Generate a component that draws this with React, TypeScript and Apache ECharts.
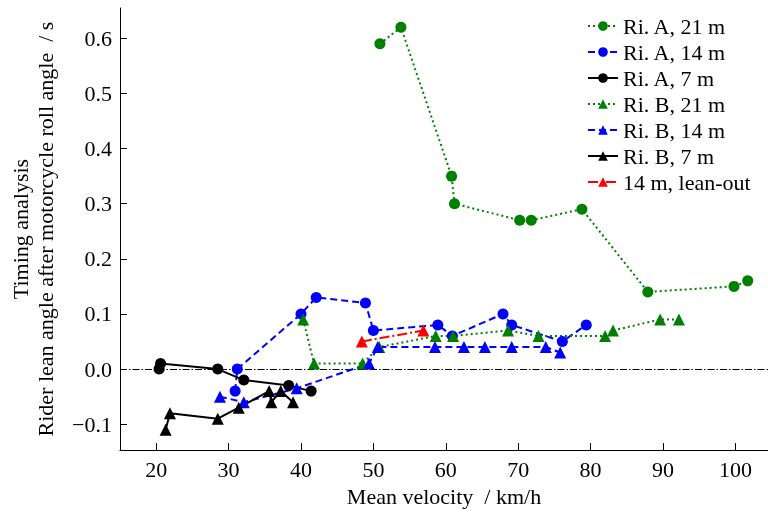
import React, { useEffect, useRef } from 'react';
import * as echarts from 'echarts';

const xTicks = [20, 30, 40, 50, 60, 70, 80, 90, 100];
const yTicks = [-0.1, 0.0, 0.1, 0.2, 0.3, 0.4, 0.5, 0.6];

const riA21 = [[50.9, 0.59], [53.8, 0.62], [60.8, 0.35], [61.2, 0.30], [70.2, 0.27], [71.8, 0.27], [78.8, 0.29], [87.9, 0.14], [99.8, 0.15], [101.7, 0.16]];
const riA14 = [[30.9, -0.04], [31.2, 0.0], [40.0, 0.10], [42.1, 0.13], [48.9, 0.12], [50.0, 0.07], [58.9, 0.08], [60.9, 0.06], [67.9, 0.10], [69.1, 0.08], [76.1, 0.05], [79.4, 0.08]];
const riA7 = [[20.4, 0.0], [20.6, 0.01], [28.5, 0.0], [32.1, -0.02], [38.3, -0.03], [41.4, -0.04]];
const riB21 = [[40.3, 0.09], [41.8, 0.01], [48.5, 0.01], [50.8, 0.04], [58.6, 0.06], [61.0, 0.06], [68.6, 0.07], [72.8, 0.06], [82.0, 0.06], [83.1, 0.07], [89.6, 0.09], [92.2, 0.09]];
const riB14 = [[28.8, -0.05], [32.1, -0.06], [39.4, -0.035], [49.4, 0.01], [50.6, 0.04], [58.5, 0.04], [62.5, 0.04], [65.4, 0.04], [69.1, 0.04], [73.8, 0.04], [75.8, 0.03]];
const riB7 = [[21.3, -0.11], [21.9, -0.08], [28.5, -0.09], [31.4, -0.07], [35.6, -0.04], [35.9, -0.06], [37.2, -0.04], [38.9, -0.06]];
const leanOut = [[48.4, 0.05], [56.9, 0.07]];

const FONT = 'Liberation Serif';
const DOT = [2, 3];
const DASH = [7, 4];
const DASHDOT = [10, 3, 2, 3];

function mk(name: string, data: number[][], color: string, symbol: string, type: any) {
  return {
    name,
    type: 'line',
    data,
    symbol,
    symbolSize: symbol === 'circle' ? 11 : 12,
    showSymbol: true,
    itemStyle: { color },
    lineStyle: { color, width: 2, type },
    emphasis: { disabled: true },
  };
}

export default function App() {
  const ref = useRef<HTMLDivElement>(null);
  useEffect(() => {
    const chart = echarts.init(ref.current!, null, { renderer: 'svg' });
    const s0: any = mk('Ri. A, 21 m', riA21, '#008000', 'circle', DOT);
    s0.markLine = {
      silent: true,
      symbol: 'none',
      label: { show: false },
      lineStyle: { color: '#000', width: 1, type: [7, 2, 1.5, 2] },
      data: [{ yAxis: 0 }],
      z: 1,
    };
    chart.setOption({
      animation: false,
      textStyle: { fontFamily: FONT },
      grid: { left: 120, top: 8, right: 0, bottom: 61 },
      legend: {
        orient: 'vertical',
        left: 582,
        top: 10,
        itemWidth: 30,
        itemHeight: 12,
        itemGap: 4,
        textStyle: { fontFamily: FONT, fontSize: 22, color: '#000', lineHeight: 22 },
        data: ['Ri. A, 21 m', 'Ri. A, 14 m', 'Ri. A, 7 m', 'Ri. B, 21 m', 'Ri. B, 14 m', 'Ri. B, 7 m', '14 m, lean-out'],
      },
      xAxis: {
        type: 'value',
        min: 15,
        max: 104.5,
        name: 'Mean velocity  / km/h',
        nameLocation: 'middle',
        nameGap: 34,
        nameTextStyle: { fontFamily: FONT, fontSize: 22, color: '#000' },
        axisLine: { show: true, onZero: false, lineStyle: { color: '#000', width: 1 } },
        axisTick: { show: true, inside: true, length: 7, customValues: xTicks, lineStyle: { color: '#000' } },
        axisLabel: { customValues: xTicks, fontFamily: FONT, fontSize: 22, color: '#000', margin: 8 },
        splitLine: { show: false },
      },
      yAxis: {
        type: 'value',
        min: -0.147,
        max: 0.655,
        name: 'Timing analysis\nRider lean angle after motorcycle roll angle  / s',
        nameLocation: 'middle',
        nameRotate: 90,
        nameGap: 62,
        nameTextStyle: { fontFamily: FONT, fontSize: 22, color: '#000', lineHeight: 25 },
        axisLine: { show: true, onZero: false, lineStyle: { color: '#000', width: 1 } },
        axisTick: { show: true, inside: true, length: 7, customValues: yTicks, lineStyle: { color: '#000' } },
        axisLabel: {
          customValues: yTicks,
          fontFamily: FONT,
          fontSize: 22,
          color: '#000',
          margin: 8,
          formatter: (v: number) => (Math.abs(v) < 1e-9 ? '0.0' : v.toFixed(1).replace('-', '\u2212')),
        },
        splitLine: { show: false },
      },
      series: [
        s0,
        mk('Ri. A, 14 m', riA14, '#0000ff', 'circle', DASH),
        mk('Ri. A, 7 m', riA7, '#000000', 'circle', 'solid'),
        mk('Ri. B, 21 m', riB21, '#008000', 'triangle', DOT),
        mk('Ri. B, 14 m', riB14, '#0000ff', 'triangle', DASH),
        mk('Ri. B, 7 m', riB7, '#000000', 'triangle', 'solid'),
        mk('14 m, lean-out', leanOut, '#ff0000', 'triangle', DASHDOT),
      ],
    });
    return () => chart.dispose();
  }, []);
  return <div ref={ref} style={{ position: 'fixed', left: 0, top: 0, width: 768, height: 512 }} />;
}
